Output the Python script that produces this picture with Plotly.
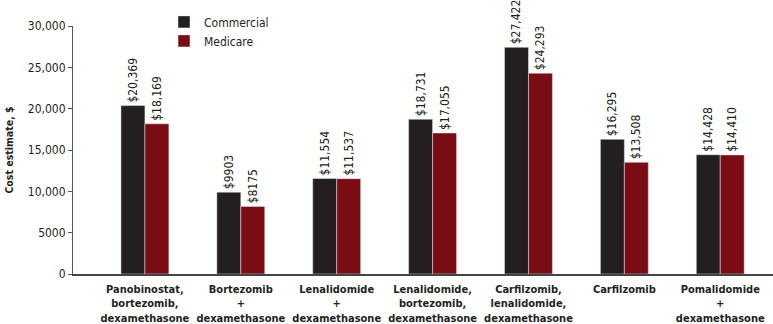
import plotly.graph_objects as go

categories = [
    "Panobinostat,<br>bortezomib,<br>dexamethasone",
    "Bortezomib<br>+<br>dexamethasone",
    "Lenalidomide<br>+<br>dexamethasone",
    "Lenalidomide,<br>bortezomib,<br>dexamethasone",
    "Carfilzomib,<br>lenalidomide,<br>dexamethasone",
    "Carfilzomib",
    "Pomalidomide<br>+<br>dexamethasone",
]
commercial = [20369, 9903, 11554, 18731, 27422, 16295, 14428]
medicare = [18169, 8175, 11537, 17055, 24293, 13508, 14410]
commercial_labels = ["$20,369", "$9903", "$11,554", "$18,731", "$27,422", "$16,295", "$14,428"]
medicare_labels = ["$18,169", "$8175", "$11,537", "$17,055", "$24,293", "$13,508", "$14,410"]
y_tickvals = [0, 5000, 10000, 15000, 20000, 25000, 30000]
y_ticktext = ["0", "5000", "10,000", "15,000", "20,000", "25,000", "30,000"]

FONT = "DejaVu Sans Condensed, Liberation Sans Narrow, Roboto, sans-serif"
x = list(range(len(categories)))

fig = go.Figure()
fig.add_trace(go.Bar(
    x=x, y=commercial, name="Commercial", marker_color="#231f20",
    text=commercial_labels, textposition="outside", textangle=-90,
    constraintext="none",
    textfont=dict(family=FONT, size=12, color="#231f20"), cliponaxis=False,
))
fig.add_trace(go.Bar(
    x=x, y=medicare, name="Medicare", marker_color="#7a0c14",
    text=medicare_labels, textposition="outside", textangle=-90,
    constraintext="none",
    textfont=dict(family=FONT, size=12, color="#231f20"), cliponaxis=False,
))

fig.update_layout(
    width=773, height=324,
    margin=dict(l=73, r=0, t=26, b=50, autoexpand=False),
    paper_bgcolor="white", plot_bgcolor="white",
    barmode="group", bargap=0.5, bargroupgap=0,
    font=dict(family=FONT, size=12, color="#231f20"),
    legend=dict(x=0.13, y=1.075, xanchor="left", yanchor="top",
                font=dict(family=FONT, size=12), itemwidth=30,
                tracegroupgap=0, bgcolor="rgba(0,0,0,0)"),
    xaxis=dict(
        range=[-0.75, 6.55], tickvals=x, tickangle=0,
        ticktext=["<b>" + c.replace("<br>", "</b><br><b>") + "</b>" for c in categories],
        showline=True, linecolor="#444", linewidth=1.5, ticks="",
        ticklabelstandoff=4,
        tickfont=dict(family=FONT, size=11, color="#231f20"),
        showgrid=False, zeroline=False, automargin=False,
    ),
    yaxis=dict(
        range=[0, 30000], tickvals=y_tickvals, ticktext=y_ticktext,
        showline=True, linecolor="#555", linewidth=1, ticks="outside",
        ticklen=4, tickcolor="#555", showgrid=False, zeroline=False,
        tickfont=dict(family=FONT, size=12, color="#231f20"),
        automargin=False,
        title=dict(text="<b>Cost estimate, $</b>", font=dict(family=FONT, size=10.5), standoff=12),
    ),
)

fig.write_html("out.html", config={"displayModeBar": False},
               post_script="document.body.style.margin='0';")
